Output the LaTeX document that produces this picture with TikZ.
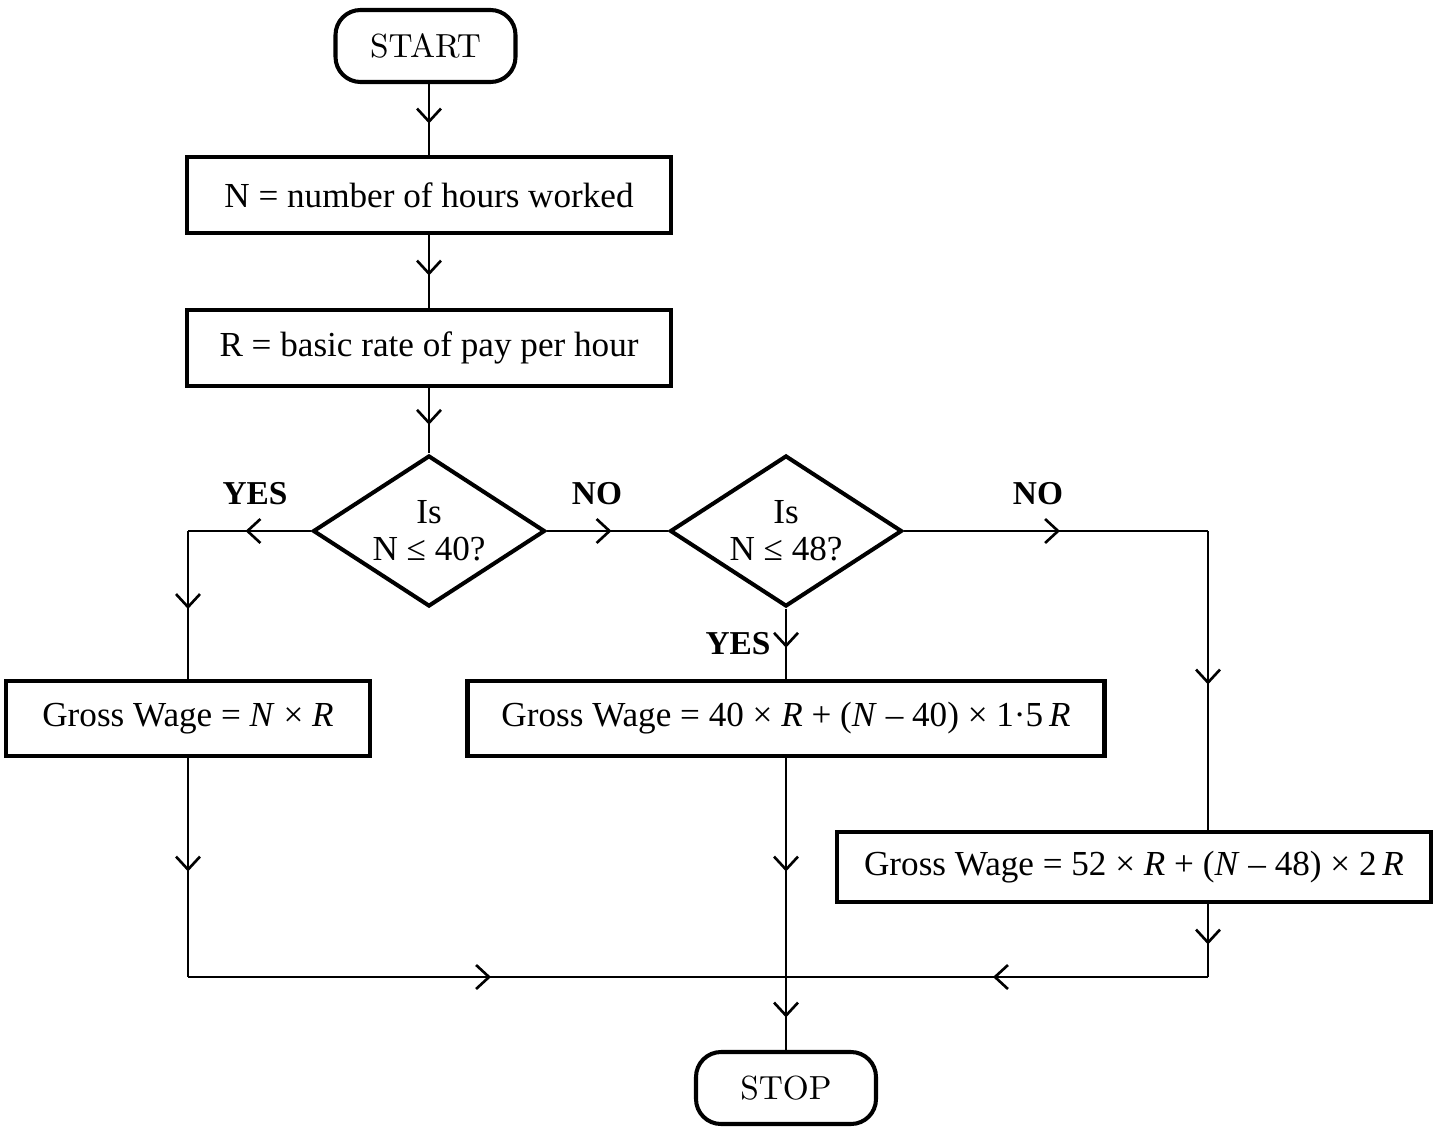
\documentclass[tikz,border=0pt]{standalone}
\usepackage{fontspec}
\newfontfamily\wagefont{Liberation Serif}
\usepackage{tikz}
\usetikzlibrary{arrows.meta,positioning,shapes.geometric,decorations.markings}
\tikzset{
    termbox/.style={rectangle,rounded corners=0.25cm,draw=black, line width=1.15pt, minimum width=1.8cm, minimum height=0.72cm, text centered, font=\fontsize{9.5}{11}\selectfont},
    procbox/.style={rectangle,draw=black, line width=1.15pt, minimum width=4.84cm, minimum height=0.76cm, text centered, font=\wagefont\fontsize{10}{12}\selectfont},
    decbox/.style={diamond,draw=black, line width=1.15pt, aspect=1.54, inner sep=0pt, minimum width=2.32cm, minimum height=1.51cm, align=center, font=\wagefont\fontsize{10}{10.5}\selectfont},
    myarrow/.style={line width=0.75pt, postaction={decorate}, decoration={markings, mark=at position 0.5 with {\arrow[xshift=0.04cm]{Straight Barb[length=0.13cm, width=0.24cm]}}}},
    mylabel/.style={font=\wagefont\fontsize{9.5}{11}\selectfont\bfseries}
}
\begin{document}
\begin{tikzpicture}
\useasboundingbox (0,0) rectangle (14.38,-11.26);

\node[termbox] (start) at (4.255,-0.46) {START};
\node[procbox] (hours) at (4.29,-1.95) {N = number of hours worked};
\node[procbox, below=0.73cm of hours] (rate) {R = basic rate of pay per hour};
\node[decbox] (test40) at (4.29,-5.31) {Is\\N ≤ 40?};
\node[decbox] (test48) at (7.86,-5.31) {Is\\N ≤ 48?};
\node[procbox, minimum width=3.64cm, minimum height=0.75cm] (wage1) at (1.88,-7.185) {Gross Wage = \textit{N} × \textit{R}};
\node[procbox, minimum width=6.37cm, minimum height=0.75cm] (wage2) at (7.86,-7.185) {Gross Wage = 40 × \textit{R} + (\textit{N} – 40) × 1·5\,\textit{R}};
\node[procbox, minimum width=5.94cm, minimum height=0.70cm] (wage3) at (11.34,-8.67) {Gross Wage = 52 × \textit{R} + (\textit{N} – 48) × 2\,\textit{R}};
\node[termbox] (stop) at (7.86,-10.88) {STOP};

\node[mylabel] (yesA) at (2.55,-4.94) {YES};
\node[mylabel] (noA) at (5.97,-4.94) {NO};
\node[mylabel] (noB) at (10.38,-4.94) {NO};
\node[mylabel] (yesB) at (7.38,-6.44) {YES};

\coordinate (yescorner) at (test40.west -| wage1.north);
\coordinate (nocorner) at (12.08,-5.31);
\coordinate (merge) at (wage2.south |- 0,-9.77);
\coordinate (mergeL) at (merge -| wage1.south);
\coordinate (mergeR) at (merge -| nocorner);

\draw[myarrow] (start.south -| hours.north) -- (hours.north);
\draw[myarrow] (hours.south) -- (rate.north);
\draw[myarrow] (rate.south) -- (test40.north);
\draw[myarrow] (test40.west) -- (yescorner);
\draw[myarrow] (yescorner) -- (wage1.north);
\draw[myarrow] (test40.east) -- (test48.west);
\draw[myarrow] (test48.south) -- (wage2.north);
\draw[myarrow] (test48.east) -- (nocorner);
\draw[myarrow] (nocorner) -- (nocorner |- wage3.north);
\draw[myarrow] (wage1.south) -- (mergeL);
\draw[myarrow] (mergeL) -- (merge);
\draw[myarrow] (wage2.south) -- (merge);
\draw[myarrow] (nocorner |- wage3.south) -- (mergeR);
\draw[myarrow] (mergeR) -- (merge);
\draw[myarrow] (merge) -- (stop.north);

\end{tikzpicture}
\end{document}
